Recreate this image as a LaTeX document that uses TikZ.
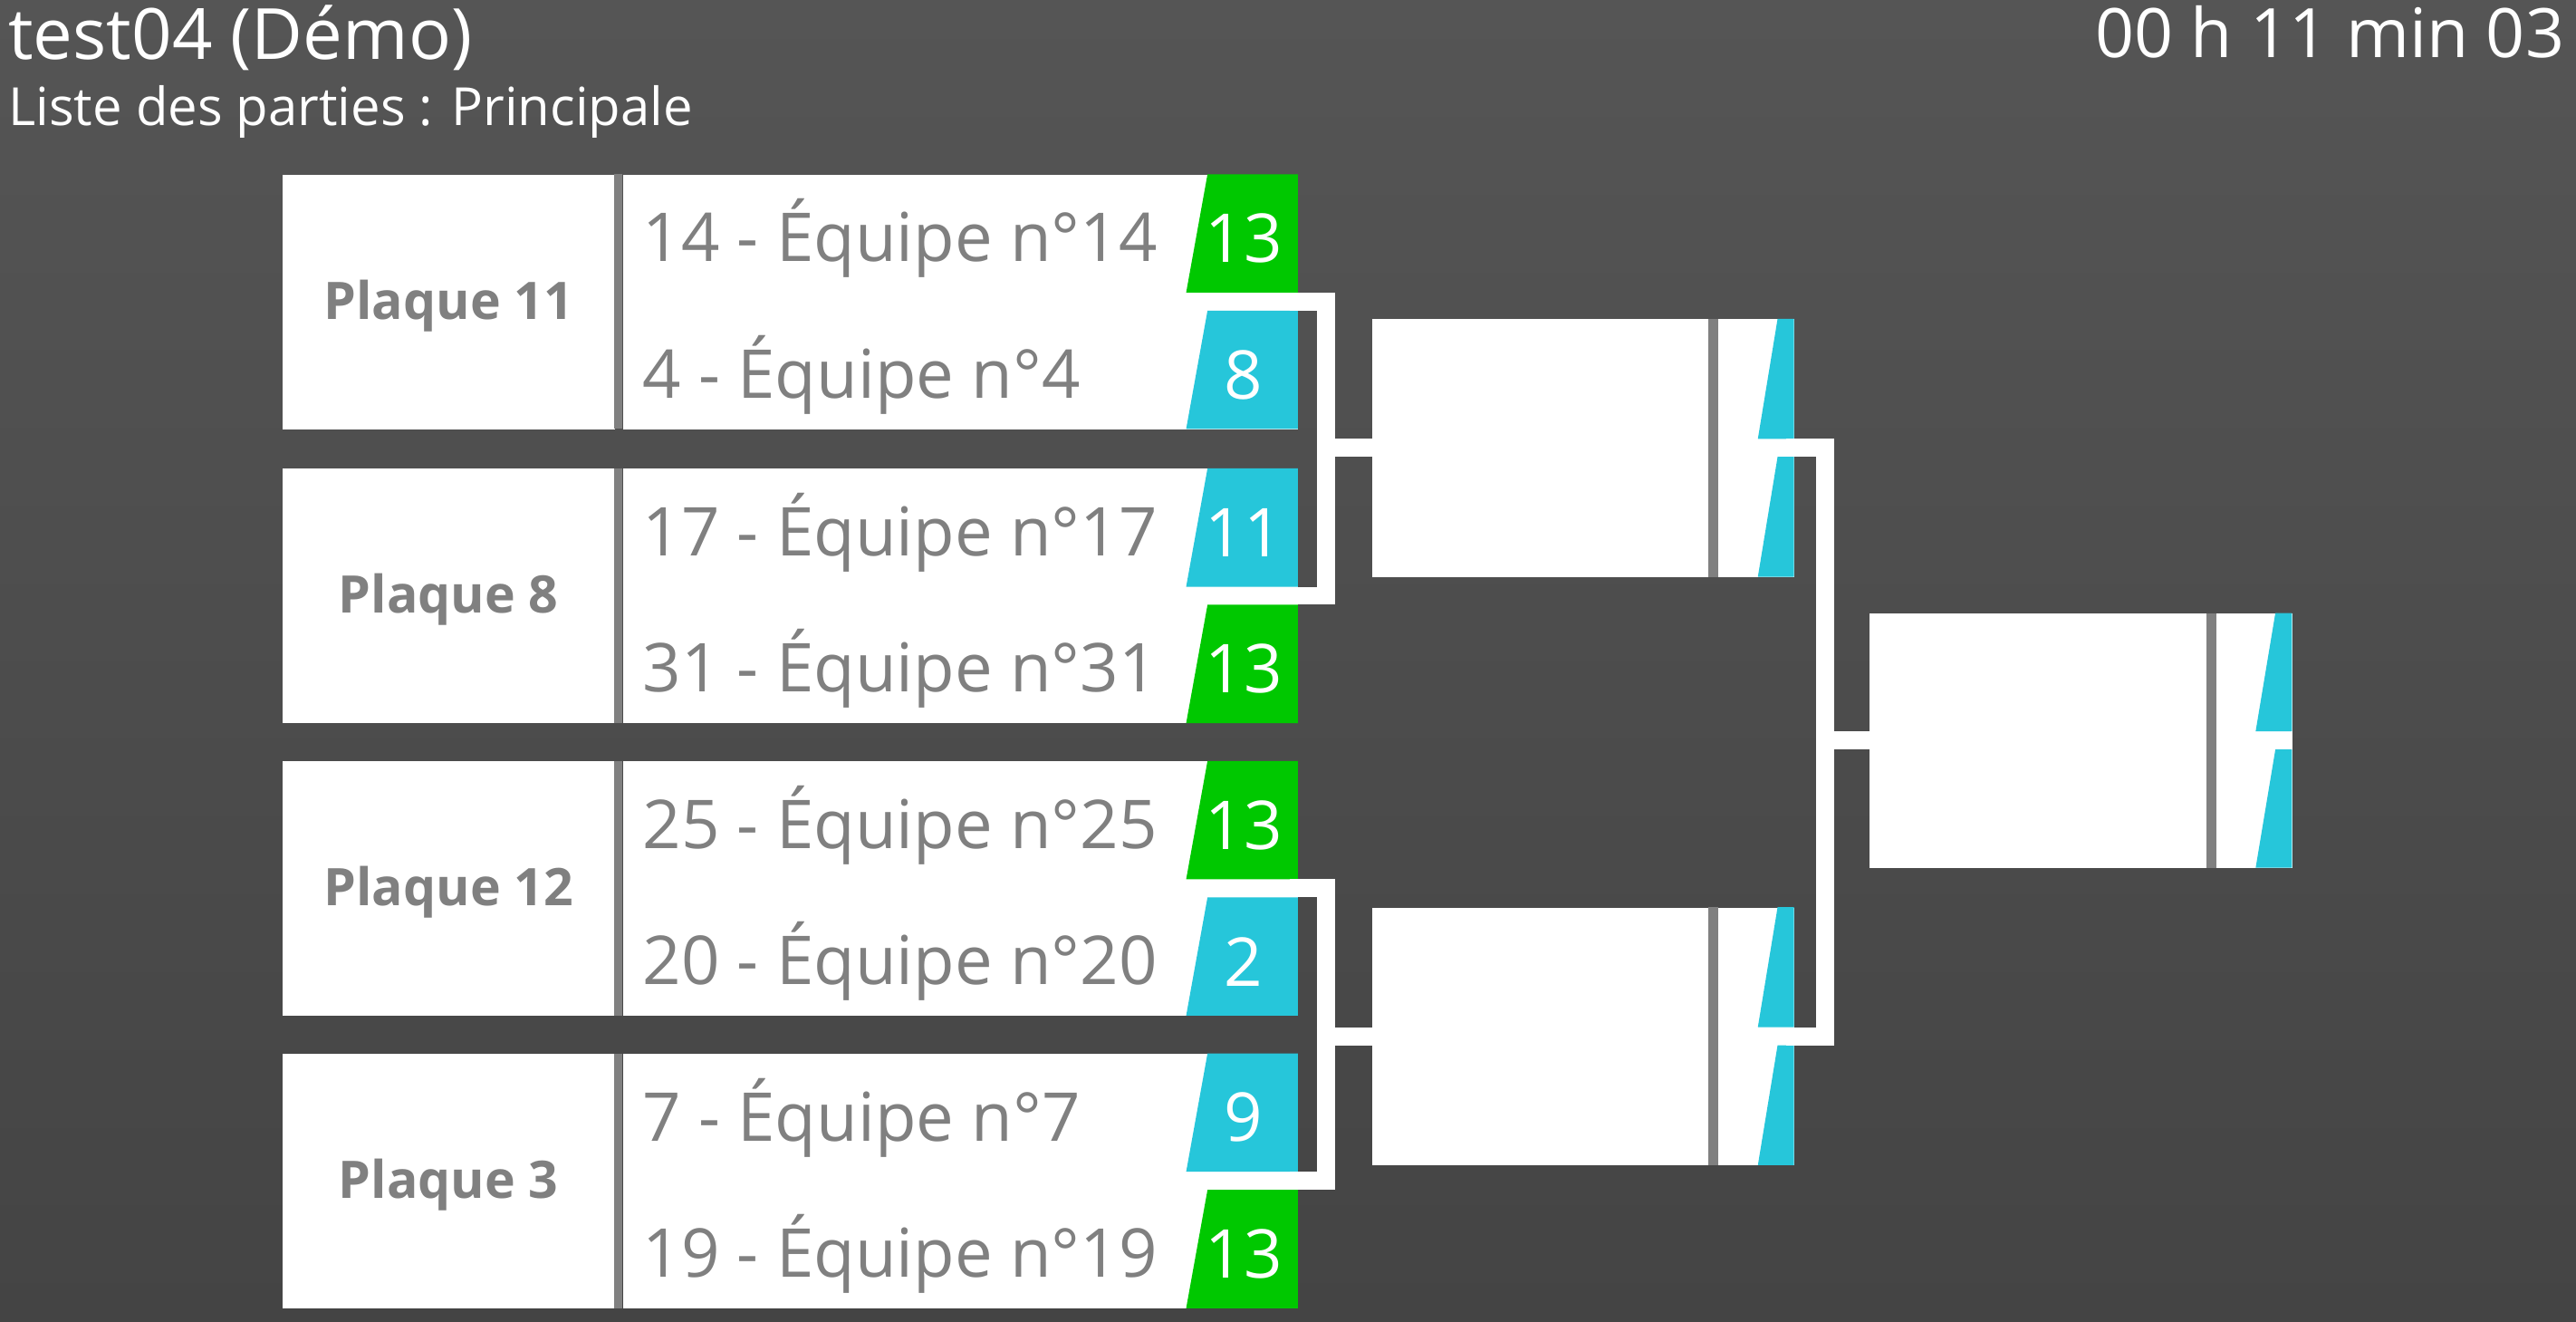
\documentclass[tikz,border=0pt]{standalone}
\usepackage{fontspec}
\setmainfont{Open Sans}
\definecolor{gr}{HTML}{00C800}
\definecolor{cy}{HTML}{26C6DA}
\definecolor{tx}{HTML}{808080}
\definecolor{bgtop}{HTML}{555555}
\definecolor{bgbot}{HTML}{444444}
\tikzset{
 panel/.style={fill=white,draw=none,inner sep=0pt,anchor=north west},
 team/.style={anchor=west,text=tx,font=\fontsize{41}{41}\selectfont,inner sep=0pt},
 plaque/.style={text=tx,font=\bfseries\fontsize{31.5}{31.5}\selectfont,inner sep=0pt},
 score/.style={text=white,font=\fontsize{41}{41}\selectfont,inner sep=0pt},
 link/.style={draw=white,line width=11pt,line cap=butt,line join=miter},
 sep/.style={fill=tx,draw=none}
}
\begin{document}
\begin{tikzpicture}[x=1pt,y=-1pt]
\shade[top color=bgtop,bottom color=bgbot] (0,0) rectangle (1568,804);
\useasboundingbox (0,0) rectangle (1568,804);
\node[anchor=north west,text=white,font=\fontsize{43}{43}\selectfont,inner sep=0pt] (title) at (5,3) {test04 (Démo)};
\node[anchor=north west,text=white,font=\fontsize{32}{32}\selectfont,inner sep=0pt] (sub) at (5,52) {Liste des parties : Principale};
\node[anchor=north east,text=white,font=\fontsize{41.5}{41.5}\selectfont,inner sep=0pt] (time) at (1561,3) {00 h 11 min 03};
% first round
\foreach \i/\y/\pl/\ta/\sa/\ca/\tb/\sb/\cb in {
 1/106/Plaque 11/14 - Équipe n°14/13/gr/4 - Équipe n°4/8/cy,
 2/285/Plaque 8/17 - Équipe n°17/11/cy/31 - Équipe n°31/13/gr,
 3/463/Plaque 12/25 - Équipe n°25/13/gr/20 - Équipe n°20/2/cy,
 4/641/Plaque 3/7 - Équipe n°7/9/cy/19 - Équipe n°19/13/gr}{
 \node[panel,minimum width=202pt,minimum height=155pt] (pl\i) at (172,\y) {};
 \node[plaque] (pt\i) at (273,\y+80) {\pl};
 \fill[sep] (374,\y) rectangle (379,\y+155);
 \node[panel,minimum width=411pt,minimum height=155pt] (tp\i) at (379,\y) {};
 \fill[\ca] (735,\y) -- (790,\y) -- (790,\y+72) -- (722,\y+72) -- cycle;
 \fill[\cb] (735,\y+83) -- (790,\y+83) -- (790,\y+155) -- (722,\y+155) -- cycle;
 \node[team] (ta\i) at (391,\y+39) {\ta};
 \node[team] (tb\i) at (391,\y+122) {\tb};
 \node[score] (sa\i) at (757,\y+39) {\sa};
 \node[score] (sb\i) at (757,\y+122) {\sb};
 \coordinate (o\i) at (785,\y+77.5);
}
% second round
\foreach \j/\y in {1/194,2/552}{
 \node[panel,minimum width=257pt,minimum height=157pt] (r\j) at (835,\y) {};
 \fill[sep] (1040,\y) rectangle (1046,\y+157);
 \fill[cy] (1082,\y) -- (1092,\y) -- (1092,\y+73) -- (1070,\y+73) -- cycle;
 \fill[cy] (1082,\y+84) -- (1092,\y+84) -- (1092,\y+157) -- (1070,\y+157) -- cycle;
 \coordinate (i\j) at (835,\y+78.5);
 \coordinate (q\j) at (1087,\y+78.5);
}
% final
\node[panel,minimum width=257pt,minimum height=155pt] (fin) at (1138,373) {};
\fill[sep] (1343,373) rectangle (1349,528);
\fill[cy] (1385,373) -- (1395,373) -- (1395,445) -- (1373,445) -- cycle;
\fill[cy] (1385,456) -- (1395,456) -- (1395,528) -- (1373,528) -- cycle;
\coordinate (fi) at (1138,450.5);
% connectors
\draw[link] (o1) -| (807,272.5) |- (o2);
\draw[link] (801.5,272.5) -- (i1);
\draw[link] (o3) -| (807,630.5) |- (o4);
\draw[link] (801.5,630.5) -- (i2);
\draw[link] (q1) -| (1111,450.5) |- (q2);
\draw[link] (1105.5,450.5) -- (fi);
\end{tikzpicture}
\end{document}
